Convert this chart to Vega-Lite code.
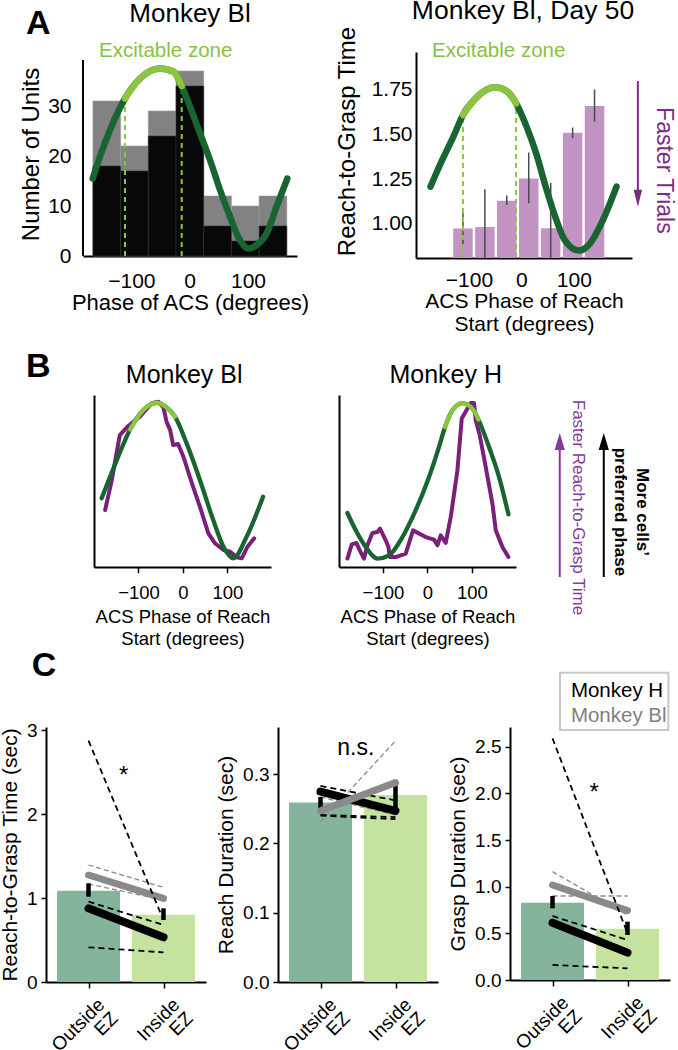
{
"$schema": "https://vega.github.io/schema/vega-lite/v6.json",
"padding": {"left": -1, "top": -2, "right": 0, "bottom": 0},
"config": {
  "font": "Liberation Sans",
  "view": {"stroke": null},
  "axis": {"domainColor": "#000", "domainWidth": 2, "tickColor": "#000", "tickWidth": 1.5, "labelColor": "#000", "titleColor": "#000", "titleFontWeight": "normal", "grid": false, "labelFlush": false, "labelOverlap": false, "labelFont": "Liberation Sans", "titleFont": "Liberation Sans"}
},
"datasets": {
  "one": [{"k": 1}],
  "a1bars": [{"lo":-166,"hi":-118.5,"total":31,"sel":18},{"lo":-118.5,"hi":-71,"total":22,"sel":17},{"lo":-71,"hi":-23.5,"total":29,"sel":24},{"lo":-23.5,"hi":24,"total":37,"sel":34},{"lo":24,"hi":71.5,"total":12,"sel":6},{"lo":71.5,"hi":119,"total":10,"sel":3},{"lo":119,"hi":166.5,"total":12,"sel":6}],
  "a1dark": [{"deg":-166.4,"v":15.5},{"deg":-153.9,"v":19.9},{"deg":-136.7,"v":25.2},{"deg":-111,"v":31.5},{"deg":-85.2,"v":35.5},{"deg":-50.9,"v":37.5},{"deg":-28,"v":36.9},{"deg":-13.7,"v":34},{"deg":0.5,"v":29.9},{"deg":17.7,"v":24.5},{"deg":34.8,"v":19.2},{"deg":52,"v":13.2},{"deg":69,"v":7.9},{"deg":86,"v":3.2},{"deg":100.5,"v":1.5},{"deg":115,"v":2.2},{"deg":132,"v":4.5},{"deg":149,"v":9.9},{"deg":167.4,"v":15.5}],
  "a1light": [{"deg":-111,"v":31.5},{"deg":-85.2,"v":35.5},{"deg":-50.9,"v":37.5},{"deg":-28,"v":36.9},{"deg":-13.7,"v":34}],
  "a1ez": [{"deg":-111,"bot":0,"top":31.5},{"deg":-13.7,"bot":0,"top":34}],
  "a2bars": [{"deg":-111.5,"v":0.975,"lo":0.88,"hi":1.06},{"deg":-69.7,"v":0.983,"lo":0.8097,"hi":1.195},{"deg":-27.9,"v":1.13,"lo":1.106,"hi":1.16},{"deg":13.9,"v":1.255,"lo":1.116,"hi":1.4},{"deg":55.8,"v":0.976,"lo":0.8097,"hi":1.23},{"deg":97.6,"v":1.51,"lo":1.48,"hi":1.54},{"deg":139.4,"v":1.66,"lo":1.572,"hi":1.753}],
  "a2dark": [{"deg":-173.4,"v":1.209},{"deg":-154,"v":1.34},{"deg":-129.7,"v":1.489},{"deg":-111.5,"v":1.61},{"deg":-87.3,"v":1.703},{"deg":-50.9,"v":1.765},{"deg":-26.6,"v":1.74},{"deg":-10.2,"v":1.675},{"deg":9.8,"v":1.545},{"deg":28,"v":1.396},{"deg":46.2,"v":1.209},{"deg":64.4,"v":1.041},{"deg":82.6,"v":0.91},{"deg":109.9,"v":0.851},{"deg":131,"v":0.892},{"deg":155.4,"v":1.022},{"deg":181.4,"v":1.209}],
  "a2light": [{"deg":-111.5,"v":1.61},{"deg":-87.3,"v":1.703},{"deg":-50.9,"v":1.765},{"deg":-26.6,"v":1.74},{"deg":-10.2,"v":1.675}],
  "a2ez": [{"deg":-111.5,"bot":0.8097,"top":1.61},{"deg":-10.2,"bot":0.8097,"top":1.675}],
  "b1dark": [{"deg":-182.7,"v":0.4},{"deg":-149,"v":0.62},{"deg":-119,"v":0.8},{"deg":-89,"v":0.913},{"deg":-59,"v":0.955},{"deg":-38,"v":0.93},{"deg":-18,"v":0.874},{"deg":8,"v":0.72},{"deg":38,"v":0.506},{"deg":68,"v":0.273},{"deg":91,"v":0.118},{"deg":113,"v":0.05},{"deg":143,"v":0.176},{"deg":180,"v":0.409}],
  "b1light": [{"deg":-119,"v":0.8},{"deg":-89,"v":0.913},{"deg":-59,"v":0.955},{"deg":-38,"v":0.93},{"deg":-18,"v":0.874}],
  "b1purple": [{"deg":-175,"v":0.331},{"deg":-160,"v":0.506},{"deg":-142,"v":0.767},{"deg":-123,"v":0.82},{"deg":-97,"v":0.874},{"deg":-70,"v":0.952},{"deg":-55,"v":0.961},{"deg":-44,"v":0.928},{"deg":-37,"v":0.845},{"deg":-29,"v":0.797},{"deg":-22,"v":0.709},{"deg":-11,"v":0.715},{"deg":1,"v":0.641},{"deg":20,"v":0.487},{"deg":38,"v":0.351},{"deg":57,"v":0.196},{"deg":72,"v":0.138},{"deg":91,"v":0.099},{"deg":106,"v":0.089},{"deg":121,"v":0.056},{"deg":132,"v":0.05},{"deg":145,"v":0.118},{"deg":160,"v":0.167}],
  "b2dark": [{"deg":-179.8,"v":0.314},{"deg":-161,"v":0.213},{"deg":-138.7,"v":0.116},{"deg":-112.4,"v":0.049},{"deg":-86.3,"v":0.068},{"deg":-56.2,"v":0.174},{"deg":-26.3,"v":0.33},{"deg":3.6,"v":0.523},{"deg":26,"v":0.698},{"deg":39.6,"v":0.814},{"deg":56.2,"v":0.911},{"deg":78.7,"v":0.953},{"deg":101,"v":0.921},{"deg":114.6,"v":0.857},{"deg":138.4,"v":0.698},{"deg":161,"v":0.523},{"deg":182,"v":0.306}],
  "b2light": [{"deg":39.6,"v":0.814},{"deg":56.2,"v":0.911},{"deg":78.7,"v":0.953},{"deg":101,"v":0.921},{"deg":114.6,"v":0.857}],
  "b2purple": [{"deg":-179.8,"v":0.049},{"deg":-170,"v":0.132},{"deg":-159.6,"v":0.14},{"deg":-152,"v":0.097},{"deg":-142.5,"v":0.049},{"deg":-134.8,"v":0.126},{"deg":-123.6,"v":0.198},{"deg":-112.4,"v":0.203},{"deg":-106.5,"v":0.223},{"deg":-93.7,"v":0.155},{"deg":-87.6,"v":0.116},{"deg":-84.7,"v":0.058},{"deg":-71.2,"v":0.058},{"deg":-48.8,"v":0.078},{"deg":-32.4,"v":0.213},{"deg":-3.8,"v":0.174},{"deg":14.8,"v":0.159},{"deg":22.5,"v":0.126},{"deg":29.9,"v":0.184},{"deg":41.1,"v":0.14},{"deg":52.4,"v":0.291},{"deg":67.4,"v":0.562},{"deg":77.1,"v":0.863},{"deg":89.9,"v":0.921},{"deg":97.3,"v":0.953},{"deg":104.7,"v":0.953},{"deg":108.5,"v":0.853},{"deg":117.5,"v":0.766},{"deg":131,"v":0.581},{"deg":146,"v":0.369},{"deg":153.5,"v":0.213},{"deg":168.5,"v":0.116},{"deg":182,"v":0.058}],
  "c1bars": [{"x":0,"v":1.087,"zone":"Outside"},{"x":1,"v":0.802,"zone":"Inside"}],
  "c1tg": [{"x":0,"v":1.274},{"x":1,"v":0.996}],
  "c1tb": [{"x":0,"v":0.877},{"x":1,"v":0.532}],
  "c1dg": [{"id":"a","x":0,"v":1.393},{"id":"a","x":1,"v":1.127},{"id":"b","x":0,"v":1.167},{"id":"b","x":1,"v":0.976}],
  "c1db": [{"id":"a","x":0,"v":2.873},{"id":"a","x":1,"v":0.738},{"id":"b","x":0,"v":0.956},{"id":"b","x":1,"v":0.679},{"id":"c","x":0,"v":0.413},{"id":"c","x":1,"v":0.353}],
  "c1err": [{"x":0,"lo":1.016,"hi":1.175},{"x":1,"lo":0.738,"hi":0.877}],
  "c2bars": [{"x":0,"v":0.259,"zone":"Outside"},{"x":1,"v":0.27,"zone":"Inside"}],
  "c2tg": [{"x":0,"v":0.247},{"x":1,"v":0.2877}],
  "c2tb": [{"x":0,"v":0.2747},{"x":1,"v":0.247}],
  "c2dg": [{"id":"a","x":0,"v":0.231},{"id":"a","x":1,"v":0.348},{"id":"b","x":0,"v":0.267},{"id":"b","x":1,"v":0.241}],
  "c2db": [{"id":"a","x":0,"v":0.283},{"id":"a","x":1,"v":0.262},{"id":"b","x":0,"v":0.241},{"id":"b","x":1,"v":0.238},{"id":"c","x":0,"v":0.24},{"id":"c","x":1,"v":0.235}],
  "c2err": [{"x":0,"lo":0.246,"hi":0.267},{"x":1,"lo":0.247,"hi":0.284}],
  "c3bars": [{"x":0,"v":0.829,"zone":"Outside"},{"x":1,"v":0.55,"zone":"Inside"}],
  "c3tg": [{"x":0,"v":1.018},{"x":1,"v":0.743}],
  "c3tb": [{"x":0,"v":0.614},{"x":1,"v":0.293}],
  "c3dg": [{"id":"a","x":0,"v":1.161},{"id":"a","x":1,"v":0.696},{"id":"b","x":0,"v":0.9},{"id":"b","x":1,"v":0.9}],
  "c3db": [{"id":"a","x":0,"v":2.589},{"id":"a","x":1,"v":0.5},{"id":"b","x":0,"v":0.686},{"id":"b","x":1,"v":0.429},{"id":"c","x":0,"v":0.161},{"id":"c","x":1,"v":0.125}],
  "c3err": [{"x":0,"lo":0.768,"hi":0.9},{"x":1,"lo":0.482,"hi":0.625}]
},
"bounds": "flush",
"spacing": 0,
"vconcat": [
 {"bounds": "flush", "spacing": 0, "hconcat": [
  {"width": 83, "height": 1, "data": {"name": "one"}, "mark": {"type": "text"}, "encoding": {"text": {"value": ""}}},
  {"width": 214, "height": 204, "layer": [
   {"data": {"name": "a1bars"}, "mark": {"type": "bar", "color": "#828282", "stroke": "#9a9a9a", "strokeWidth": 0.6},
    "encoding": {
     "x": {"field": "lo", "type": "quantitative", "scale": {"domain": [-183, 184], "nice": false, "zero": false}, "axis": {"values": [-100, 0, 100], "ticks": false, "tickSize": 0, "labelFontSize": 21, "labelPadding": 14, "title": "Phase of ACS (degrees)", "titleFontSize": 22, "titlePadding": 1}},
     "x2": {"field": "hi"},
     "y": {"field": "total", "type": "quantitative", "scale": {"domain": [0, 40.8], "nice": false, "zero": false}, "axis": {"values": [0, 10, 20, 30], "ticks": false, "tickSize": 0, "domain": false, "labelFontSize": 21, "labelPadding": 12, "title": "Number of Units", "titleFontSize": 24, "titlePadding": 4}},
     "y2": {"datum": 0}}},
   {"data": {"name": "a1bars"}, "mark": {"type": "bar", "color": "#080808", "stroke": "#333", "strokeWidth": 0.6},
    "encoding": {"x": {"field": "lo", "type": "quantitative"}, "x2": {"field": "hi"}, "y": {"field": "sel", "type": "quantitative"}, "y2": {"datum": 0}}},
   {"data": {"name": "a1ez"}, "mark": {"type": "rule", "color": "#8cc63f", "strokeWidth": 2, "strokeDash": [5, 4]},
    "encoding": {"x": {"field": "deg", "type": "quantitative"}, "y": {"field": "bot", "type": "quantitative"}, "y2": {"field": "top"}}},
   {"data": {"name": "a1dark"}, "mark": {"type": "line", "color": "#196532", "strokeWidth": 6.5, "strokeCap": "round", "interpolate": "monotone"},
    "encoding": {"x": {"field": "deg", "type": "quantitative"}, "y": {"field": "v", "type": "quantitative"}}},
   {"data": {"name": "a1light"}, "mark": {"type": "line", "color": "#8cc63f", "strokeWidth": 6.5, "strokeCap": "round", "interpolate": "monotone"},
    "encoding": {"x": {"field": "deg", "type": "quantitative"}, "y": {"field": "v", "type": "quantitative"}}},
   {"data": {"name": "one"}, "mark": {"type": "rule", "color": "#000", "strokeWidth": 2},
    "encoding": {"x": {"datum": -183, "type": "quantitative"}, "y": {"datum": 0, "type": "quantitative"}, "y2": {"datum": 39.2}}},
   {"data": {"name": "one"}, "mark": {"type": "text", "text": "Monkey Bl", "fontSize": 26, "align": "center", "baseline": "alphabetic"},
    "encoding": {"x": {"datum": 0.5, "type": "quantitative"}, "y": {"datum": 46.86, "type": "quantitative"}}},
   {"data": {"name": "one"}, "mark": {"type": "text", "text": "Excitable zone", "fontSize": 20.5, "color": "#84c341", "align": "center", "baseline": "alphabetic"},
    "encoding": {"x": {"datum": -41.2, "type": "quantitative"}, "y": {"datum": 39.86, "type": "quantitative"}}},
   {"data": {"name": "one"}, "mark": {"type": "text", "text": "A", "fontSize": 34, "fontWeight": "bold", "align": "center", "baseline": "alphabetic"},
    "encoding": {"x": {"datum": -259.7, "type": "quantitative"}, "y": {"datum": 44.5, "type": "quantitative"}}}
  ]},
  {"width": 119, "height": 1, "data": {"name": "one"}, "mark": {"type": "text"}, "encoding": {"text": {"value": ""}}},
  {"width": 216, "height": 206, "layer": [
   {"data": {"name": "a2bars"}, "mark": {"type": "bar", "color": "#c194c3", "width": 19.5},
    "encoding": {
     "x": {"field": "deg", "type": "quantitative", "scale": {"domain": [-191.5, 201.3], "nice": false, "zero": false}, "axis": {"values": [-100, 0, 100], "ticks": false, "tickSize": 0, "labelFontSize": 21, "labelPadding": 11, "title": ["ACS Phase of Reach", "Start (degrees)"], "titleFontSize": 21, "titleLineHeight": 23.5, "titlePadding": 0}},
     "y": {"field": "v", "type": "quantitative", "scale": {"domain": [0.8097, 1.9625], "nice": false, "zero": false}, "axis": {"values": [1, 1.25, 1.5, 1.75], "format": ".2f", "ticks": false, "tickSize": 0, "labelFontSize": 21, "labelPadding": 4, "title": "Reach-to-Grasp Time", "titleFontSize": 24, "titlePadding": 12, "titleY": 89}},
     "y2": {"datum": 0.8097}}},
   {"data": {"name": "a2bars"}, "mark": {"type": "rule", "color": "#4a4a4a", "strokeWidth": 1.5},
    "encoding": {"x": {"field": "deg", "type": "quantitative"}, "y": {"field": "lo", "type": "quantitative"}, "y2": {"field": "hi"}}},
   {"data": {"name": "a2ez"}, "mark": {"type": "rule", "color": "#8cc63f", "strokeWidth": 2, "strokeDash": [5, 4]},
    "encoding": {"x": {"field": "deg", "type": "quantitative"}, "y": {"field": "bot", "type": "quantitative"}, "y2": {"field": "top"}}},
   {"data": {"name": "a2dark"}, "mark": {"type": "line", "color": "#196532", "strokeWidth": 6.5, "strokeCap": "round", "interpolate": "monotone"},
    "encoding": {"x": {"field": "deg", "type": "quantitative"}, "y": {"field": "v", "type": "quantitative"}}},
   {"data": {"name": "a2light"}, "mark": {"type": "line", "color": "#8cc63f", "strokeWidth": 6.5, "strokeCap": "round", "interpolate": "monotone"},
    "encoding": {"x": {"field": "deg", "type": "quantitative"}, "y": {"field": "v", "type": "quantitative"}}},
   {"data": {"name": "one"}, "mark": {"type": "text", "text": "Monkey Bl, Day 50", "fontSize": 26.5, "align": "center", "baseline": "alphabetic"},
    "encoding": {"x": {"datum": 3.1, "type": "quantitative"}, "y": {"datum": 2.1444, "type": "quantitative"}}},
   {"data": {"name": "one"}, "mark": {"type": "text", "text": "Excitable zone", "fontSize": 20.5, "color": "#84c341", "align": "center", "baseline": "alphabetic"},
    "encoding": {"x": {"datum": -43.3, "type": "quantitative"}, "y": {"datum": 1.936, "type": "quantitative"}}},
   {"data": {"name": "one"}, "mark": {"type": "text", "text": "Faster Trials", "fontSize": 23, "color": "#7e2b83", "angle": 90, "align": "center", "baseline": "middle"},
    "encoding": {"x": {"datum": 272, "type": "quantitative"}, "y": {"datum": 1.3, "type": "quantitative"}}},
   {"data": {"name": "one"}, "mark": {"type": "rule", "color": "#7e2b83", "strokeWidth": 2},
    "encoding": {"x": {"datum": 222, "type": "quantitative"}, "y": {"datum": 1.8, "type": "quantitative"}, "y2": {"datum": 1.145}}},
   {"data": {"name": "one"}, "mark": {"type": "point", "shape": "M-0.5,-1L0.5,-1L0,1Z", "size": 289, "filled": true, "opacity": 1, "color": "#7e2b83"},
    "encoding": {"x": {"datum": 222, "type": "quantitative"}, "y": {"datum": 1.1444, "type": "quantitative"}}}
  ]}
 ]},
 {"width": 1, "height": 343, "data": {"name": "one"}, "mark": {"type": "text"}, "encoding": {"text": {"value": ""}}},
 {"bounds": "flush", "spacing": 0, "hconcat": [
  {"width": 94, "height": 1, "data": {"name": "one"}, "mark": {"type": "text"}, "encoding": {"text": {"value": ""}}},
  {"width": 177, "height": 172, "layer": [
   {"data": {"name": "b1purple"}, "mark": {"type": "line", "color": "#7a1f7a", "strokeWidth": 4, "strokeCap": "round", "strokeJoin": "round"},
    "encoding": {
     "x": {"field": "deg", "type": "quantitative", "scale": {"domain": [-200, 197.8], "nice": false, "zero": false}, "axis": {"values": [-100, 0, 100], "tickSize": 5.7, "labelFontSize": 18.5, "labelPadding": 11, "title": ["ACS Phase of Reach", "Start (degrees)"], "titleFontSize": 18.5, "titleLineHeight": 21.7, "titlePadding": 5.7}},
     "y": {"field": "v", "type": "quantitative", "scale": {"domain": [0, 1], "nice": false, "zero": false}, "axis": {"labels": false, "ticks": false, "title": null}}}},
   {"data": {"name": "b1dark"}, "mark": {"type": "line", "color": "#196532", "strokeWidth": 4.3, "strokeCap": "round", "interpolate": "monotone"},
    "encoding": {"x": {"field": "deg", "type": "quantitative"}, "y": {"field": "v", "type": "quantitative"}}},
   {"data": {"name": "b1light"}, "mark": {"type": "line", "color": "#8cc63f", "strokeWidth": 4.3, "strokeCap": "round", "interpolate": "monotone"},
    "encoding": {"x": {"field": "deg", "type": "quantitative"}, "y": {"field": "v", "type": "quantitative"}}},
   {"data": {"name": "one"}, "mark": {"type": "text", "text": "Monkey Bl", "fontSize": 25, "align": "center", "baseline": "alphabetic"},
    "encoding": {"x": {"datum": 2.7, "type": "quantitative"}, "y": {"datum": 1.068, "type": "quantitative"}}},
   {"data": {"name": "one"}, "mark": {"type": "text", "text": "B", "fontSize": 34, "fontWeight": "bold", "align": "center", "baseline": "alphabetic"},
    "encoding": {"x": {"datum": -325.2, "type": "quantitative"}, "y": {"datum": 1.106, "type": "quantitative"}}}
  ]},
  {"width": 67.3, "height": 1, "data": {"name": "one"}, "mark": {"type": "text"}, "encoding": {"text": {"value": ""}}},
  {"width": 177, "height": 172, "layer": [
   {"data": {"name": "b2purple"}, "mark": {"type": "line", "color": "#7a1f7a", "strokeWidth": 4, "strokeCap": "round", "strokeJoin": "round"},
    "encoding": {
     "x": {"field": "deg", "type": "quantitative", "scale": {"domain": [-198.7, 199], "nice": false, "zero": false}, "axis": {"values": [-100, 0, 100], "tickSize": 5.7, "labelFontSize": 18.5, "labelPadding": 11, "title": ["ACS Phase of Reach", "Start (degrees)"], "titleFontSize": 18.5, "titleLineHeight": 21.7, "titlePadding": 5.7}},
     "y": {"field": "v", "type": "quantitative", "scale": {"domain": [0, 1], "nice": false, "zero": false}, "axis": {"labels": false, "ticks": false, "title": null}}}},
   {"data": {"name": "b2dark"}, "mark": {"type": "line", "color": "#196532", "strokeWidth": 4.3, "strokeCap": "round", "interpolate": "monotone"},
    "encoding": {"x": {"field": "deg", "type": "quantitative"}, "y": {"field": "v", "type": "quantitative"}}},
   {"data": {"name": "b2light"}, "mark": {"type": "line", "color": "#8cc63f", "strokeWidth": 4.3, "strokeCap": "round", "interpolate": "monotone"},
    "encoding": {"x": {"field": "deg", "type": "quantitative"}, "y": {"field": "v", "type": "quantitative"}}},
   {"data": {"name": "one"}, "mark": {"type": "text", "text": "Monkey H", "fontSize": 25, "align": "center", "baseline": "alphabetic"},
    "encoding": {"x": {"datum": 41.1, "type": "quantitative"}, "y": {"datum": 1.068, "type": "quantitative"}}},
   {"data": {"name": "one"}, "mark": {"type": "rule", "color": "#833a9a", "strokeWidth": 2},
    "encoding": {"x": {"datum": 297.3, "type": "quantitative"}, "y": {"datum": -0.058, "type": "quantitative"}, "y2": {"datum": 0.73}}},
   {"data": {"name": "one"}, "mark": {"type": "point", "shape": "M-0.6,1L0.6,1L0,-1Z", "size": 289, "filled": true, "opacity": 1, "color": "#833a9a"},
    "encoding": {"x": {"datum": 297.3, "type": "quantitative"}, "y": {"datum": 0.7297, "type": "quantitative"}}},
   {"data": {"name": "one"}, "mark": {"type": "rule", "color": "#000", "strokeWidth": 2},
    "encoding": {"x": {"datum": 396.2, "type": "quantitative"}, "y": {"datum": -0.058, "type": "quantitative"}, "y2": {"datum": 0.73}}},
   {"data": {"name": "one"}, "mark": {"type": "point", "shape": "M-0.6,1L0.6,1L0,-1Z", "size": 289, "filled": true, "opacity": 1, "color": "#000"},
    "encoding": {"x": {"datum": 396.2, "type": "quantitative"}, "y": {"datum": 0.7297, "type": "quantitative"}}},
   {"data": {"name": "one"}, "mark": {"type": "text", "text": "Faster Reach-to-Grasp Time", "fontSize": 17, "color": "#833a9a", "angle": 90, "align": "center", "baseline": "middle"},
    "encoding": {"x": {"datum": 338.9, "type": "quantitative"}, "y": {"datum": 0.346, "type": "quantitative"}}},
   {"data": {"name": "one"}, "mark": {"type": "text", "text": ["More cells’", "preferred phase"], "lineHeight": 21.7, "fontSize": 17, "fontWeight": "bold", "color": "#000", "angle": 90, "align": "center", "baseline": "middle"},
    "encoding": {"x": {"datum": 481, "type": "quantitative"}, "y": {"datum": 0.32, "type": "quantitative"}}}
  ]}
 ]},
 {"width": 1, "height": 332, "data": {"name": "one"}, "mark": {"type": "text"}, "encoding": {"text": {"value": ""}}},
 {"bounds": "flush", "spacing": 0, "hconcat": [
  {"width": 45.7, "height": 1, "data": {"name": "one"}, "mark": {"type": "text"}, "encoding": {"text": {"value": ""}}},
  {"width": 160, "height": 255, "layer": [
   {"data": {"name": "c1bars"}, "mark": {"type": "bar", "width": 63},
    "encoding": {
     "x": {"field": "x", "type": "quantitative", "scale": {"domain": [-0.5, 1.5], "nice": false, "zero": false}, "axis": {"values": [0, 1], "labelExpr": "datum.value == 0 ? ['Outside','EZ'] : ['Inside','EZ']", "labelAngle": -45, "labelFontSize": 19, "labelLineHeight": 19, "tickSize": 6, "labelPadding": 7, "labelOffset": 6, "title": null}},
     "y": {"field": "v", "type": "quantitative", "scale": {"domain": [0, 3.036], "nice": false, "zero": false}, "axis": {"values": [0, 1, 2, 3], "format": ".0f", "tickSize": 5, "labelFontSize": 19, "labelPadding": 4, "title": "Reach-to-Grasp Time (sec)", "titleFontSize": 21, "titlePadding": 6}},
     "color": {"field": "zone", "type": "nominal", "scale": {"domain": ["Outside", "Inside"], "range": ["#84b59c", "#c5e29f"]}, "legend": null}}},
   {"data": {"name": "c1tg"}, "mark": {"type": "line", "color": "#8a8a8a", "strokeWidth": 7, "strokeCap": "round"},
    "encoding": {"x": {"field": "x", "type": "quantitative"}, "y": {"field": "v", "type": "quantitative"}}},
   {"data": {"name": "c1dg"}, "mark": {"type": "line", "color": "#8a8a8a", "strokeWidth": 1.3, "strokeDash": [5, 3]},
    "encoding": {"x": {"field": "x", "type": "quantitative"}, "y": {"field": "v", "type": "quantitative"}, "detail": {"field": "id", "type": "nominal"}}},
   {"data": {"name": "c1db"}, "mark": {"type": "line", "color": "#000", "strokeWidth": 1.8, "strokeDash": [6, 4]},
    "encoding": {"x": {"field": "x", "type": "quantitative"}, "y": {"field": "v", "type": "quantitative"}, "detail": {"field": "id", "type": "nominal"}}},
   {"data": {"name": "c1tb"}, "mark": {"type": "line", "color": "#000", "strokeWidth": 8, "strokeCap": "round"},
    "encoding": {"x": {"field": "x", "type": "quantitative"}, "y": {"field": "v", "type": "quantitative"}}},
   {"data": {"name": "c1err"}, "mark": {"type": "rule", "color": "#000", "strokeWidth": 4.5},
    "encoding": {"x": {"field": "x", "type": "quantitative"}, "y": {"field": "lo", "type": "quantitative"}, "y2": {"field": "hi"}}},
   {"data": {"name": "one"}, "mark": {"type": "text", "text": "*", "fontSize": 24, "align": "center", "baseline": "alphabetic"},
    "encoding": {"x": {"datum": 0.47, "type": "quantitative"}, "y": {"datum": 2.369, "type": "quantitative"}}},
   {"data": {"name": "one"}, "mark": {"type": "text", "text": "C", "fontSize": 34, "fontWeight": "bold", "align": "center", "baseline": "alphabetic"},
    "encoding": {"x": {"datum": -0.5925, "type": "quantitative"}, "y": {"datum": 3.643, "type": "quantitative"}}}
  ]},
  {"width": 71.5, "height": 1, "data": {"name": "one"}, "mark": {"type": "text"}, "encoding": {"text": {"value": ""}}},
  {"width": 160, "height": 255, "layer": [
   {"data": {"name": "c2bars"}, "mark": {"type": "bar", "width": 63},
    "encoding": {
     "x": {"field": "x", "type": "quantitative", "scale": {"domain": [-0.5, 1.5], "nice": false, "zero": false}, "axis": {"values": [0, 1], "labelExpr": "datum.value == 0 ? ['Outside','EZ'] : ['Inside','EZ']", "labelAngle": -45, "labelFontSize": 19, "labelLineHeight": 19, "tickSize": 6, "labelPadding": 7, "labelOffset": 6, "title": null}},
     "y": {"field": "v", "type": "quantitative", "scale": {"domain": [0, 0.368], "nice": false, "zero": false}, "axis": {"values": [0, 0.1, 0.2, 0.3], "format": ".1f", "tickSize": 5, "labelFontSize": 19, "labelPadding": 4, "title": "Reach Duration (sec)", "titleFontSize": 21, "titlePadding": 6}},
     "color": {"field": "zone", "type": "nominal", "scale": {"domain": ["Outside", "Inside"], "range": ["#84b59c", "#c5e29f"]}, "legend": null}}},
   {"data": {"name": "c2dg"}, "mark": {"type": "line", "color": "#8a8a8a", "strokeWidth": 1.3, "strokeDash": [5, 3]},
    "encoding": {"x": {"field": "x", "type": "quantitative"}, "y": {"field": "v", "type": "quantitative"}, "detail": {"field": "id", "type": "nominal"}}},
   {"data": {"name": "c2db"}, "mark": {"type": "line", "color": "#000", "strokeWidth": 1.8, "strokeDash": [6, 4]},
    "encoding": {"x": {"field": "x", "type": "quantitative"}, "y": {"field": "v", "type": "quantitative"}, "detail": {"field": "id", "type": "nominal"}}},
   {"data": {"name": "c2tb"}, "mark": {"type": "line", "color": "#000", "strokeWidth": 8, "strokeCap": "round"},
    "encoding": {"x": {"field": "x", "type": "quantitative"}, "y": {"field": "v", "type": "quantitative"}}},
   {"data": {"name": "c2err"}, "mark": {"type": "rule", "color": "#000", "strokeWidth": 4.5},
    "encoding": {"x": {"field": "x", "type": "quantitative"}, "y": {"field": "lo", "type": "quantitative"}, "y2": {"field": "hi"}}},
   {"data": {"name": "c2tg"}, "mark": {"type": "line", "color": "#8a8a8a", "strokeWidth": 7, "strokeCap": "round"},
    "encoding": {"x": {"field": "x", "type": "quantitative"}, "y": {"field": "v", "type": "quantitative"}}},
   {"data": {"name": "one"}, "mark": {"type": "text", "text": "n.s.", "fontSize": 23, "align": "center", "baseline": "alphabetic"},
    "encoding": {"x": {"datum": 0.471, "type": "quantitative"}, "y": {"datum": 0.3276, "type": "quantitative"}}}
  ]},
  {"width": 71.5, "height": 1, "data": {"name": "one"}, "mark": {"type": "text"}, "encoding": {"text": {"value": ""}}},
  {"width": 160, "height": 253, "layer": [
   {"data": {"name": "c3bars"}, "mark": {"type": "bar", "width": 63},
    "encoding": {
     "x": {"field": "x", "type": "quantitative", "scale": {"domain": [-0.5, 1.5], "nice": false, "zero": false}, "axis": {"values": [0, 1], "labelExpr": "datum.value == 0 ? ['Outside','EZ'] : ['Inside','EZ']", "labelAngle": -45, "labelFontSize": 19, "labelLineHeight": 19, "tickSize": 6, "labelPadding": 7, "labelOffset": 6, "title": null}},
     "y": {"field": "v", "type": "quantitative", "scale": {"domain": [0, 2.711], "nice": false, "zero": false}, "axis": {"values": [0, 0.5, 1, 1.5, 2, 2.5], "format": ".1f", "tickSize": 5, "labelFontSize": 19, "labelPadding": 4, "title": "Grasp Duration (sec)", "titleFontSize": 21, "titlePadding": 6}},
     "color": {"field": "zone", "type": "nominal", "scale": {"domain": ["Outside", "Inside"], "range": ["#84b59c", "#c5e29f"]}, "legend": null}}},
   {"data": {"name": "c3tg"}, "mark": {"type": "line", "color": "#8a8a8a", "strokeWidth": 7, "strokeCap": "round"},
    "encoding": {"x": {"field": "x", "type": "quantitative"}, "y": {"field": "v", "type": "quantitative"}}},
   {"data": {"name": "c3dg"}, "mark": {"type": "line", "color": "#8a8a8a", "strokeWidth": 1.3, "strokeDash": [5, 3]},
    "encoding": {"x": {"field": "x", "type": "quantitative"}, "y": {"field": "v", "type": "quantitative"}, "detail": {"field": "id", "type": "nominal"}}},
   {"data": {"name": "c3db"}, "mark": {"type": "line", "color": "#000", "strokeWidth": 1.8, "strokeDash": [6, 4]},
    "encoding": {"x": {"field": "x", "type": "quantitative"}, "y": {"field": "v", "type": "quantitative"}, "detail": {"field": "id", "type": "nominal"}}},
   {"data": {"name": "c3tb"}, "mark": {"type": "line", "color": "#000", "strokeWidth": 8, "strokeCap": "round"},
    "encoding": {"x": {"field": "x", "type": "quantitative"}, "y": {"field": "v", "type": "quantitative"}}},
   {"data": {"name": "c3err"}, "mark": {"type": "rule", "color": "#000", "strokeWidth": 4.5},
    "encoding": {"x": {"field": "x", "type": "quantitative"}, "y": {"field": "lo", "type": "quantitative"}, "y2": {"field": "hi"}}},
   {"data": {"name": "one"}, "mark": {"type": "text", "text": "*", "fontSize": 24, "align": "center", "baseline": "alphabetic"},
    "encoding": {"x": {"datum": 0.554, "type": "quantitative"}, "y": {"datum": 1.929, "type": "quantitative"}}},
   {"data": {"name": "one"}, "mark": {"type": "rect", "fill": "#fff", "stroke": "#c8c8c8", "strokeWidth": 2},
    "encoding": {"x": {"datum": 0.1, "type": "quantitative"}, "x2": {"datum": 1.545}, "y": {"datum": 2.679, "type": "quantitative"}, "y2": {"datum": 3.293}}},
   {"data": {"name": "one"}, "mark": {"type": "text", "text": "Monkey H", "fontSize": 20.5, "color": "#000", "align": "left", "baseline": "alphabetic"},
    "encoding": {"x": {"datum": 0.245, "type": "quantitative"}, "y": {"datum": 3.035, "type": "quantitative"}}},
   {"data": {"name": "one"}, "mark": {"type": "text", "text": "Monkey Bl", "fontSize": 20.5, "color": "#808080", "align": "left", "baseline": "alphabetic"},
    "encoding": {"x": {"datum": 0.245, "type": "quantitative"}, "y": {"datum": 2.767, "type": "quantitative"}}}
  ]}
 ]}
]
}
